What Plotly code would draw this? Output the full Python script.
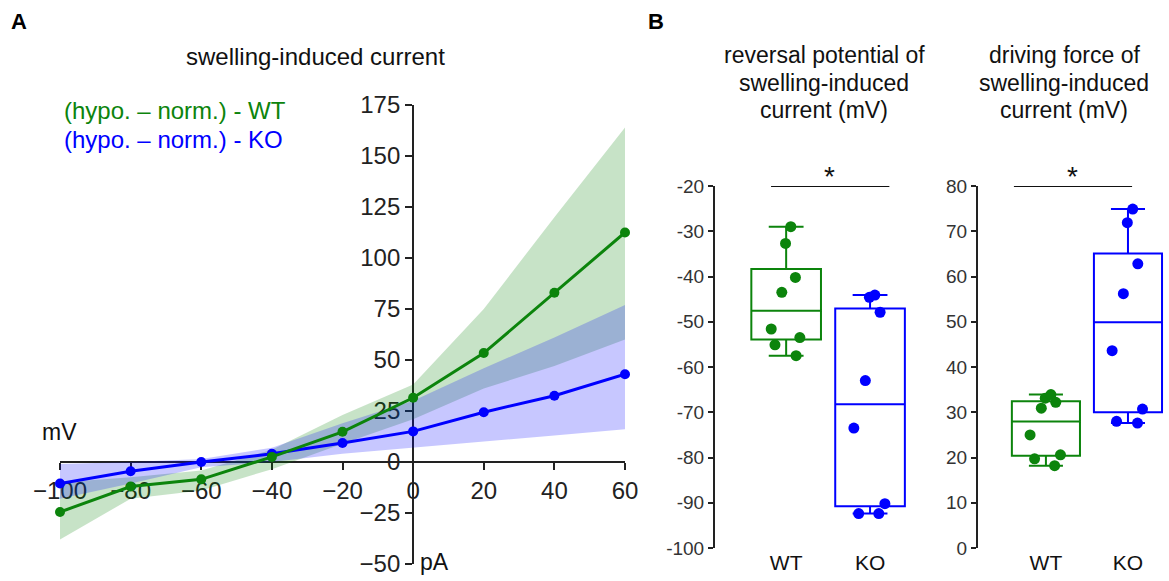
import numpy as np
import plotly.graph_objects as go

W, H = 1169, 581
FONT = "Liberation Sans, Arial, sans-serif"
GREEN = "#0c840c"
BLUE = "#0000ff"

# ---- Panel A: swelling-induced I-V relation ----
current_pA = [-100, -80, -60, -40, -20, 0, 20, 40, 60]
wt_mean = [-24.5, -12.0, -8.5, 2.5, 14.8, 31.5, 53.4, 83.0, 112.5]
wt_upper = [-10.0, -7.5, -4.2, 6.0, 23.0, 38.0, 75.0, 120.0, 164.0]
wt_lower = [-38.0, -18.0, -14.0, -3.5, 9.0, 21.0, 36.0, 47.0, 60.0]
ko_mean = [-10.5, -4.5, 0.0, 4.0, 9.3, 15.0, 24.4, 32.5, 43.0]
ko_upper = [-1.0, 0.0, 1.5, 7.0, 19.0, 30.0, 46.0, 61.0, 77.0]
ko_lower = [-18.0, -10.5, -2.6, 0.0, 4.0, 7.0, 10.0, 13.0, 16.0]
iv_xticks = [-100, -80, -60, -40, -20, 0, 20, 40, 60]
iv_yticks = [-50, -25, 0, 25, 50, 75, 100, 125, 150, 175]

# ---- Panel B: per-cell values ----
groups = ["WT", "KO"]
rev_wt = [-29.0, -32.7, -40.2, -43.5, -51.6, -53.5, -55.1, -57.5]
rev_ko = [-44.1, -44.6, -47.9, -63.0, -73.5, -90.2, -92.4, -92.4]
drv_wt = [33.9, 33.1, 32.2, 30.9, 25.0, 20.6, 19.7, 18.2]
drv_ko = [74.9, 71.9, 62.8, 56.2, 43.6, 30.7, 28.0, 27.6]
rev_ticks = [-100, -90, -80, -70, -60, -50, -40, -30, -20]
drv_ticks = [0, 10, 20, 30, 40, 50, 60, 70, 80]
rev_title = ["reversal potential of", "swelling-induced", "current (mV)"]
drv_title = ["driving force of", "swelling-induced", "current (mV)"]


def xdom(left, right):
    return [left / W, right / W]


def ydom(top, bottom):
    return [1 - bottom / H, 1 - top / H]


def px(x):
    return x / W


def py(y):
    return 1 - y / H


fig = go.Figure()

# shaded spread bands
for xs, up, lo, col in [(current_pA, wt_upper, wt_lower, "rgba(0,128,0,0.22)"),
                        (current_pA, ko_upper, ko_lower, "rgba(0,0,255,0.22)")]:
    fig.add_trace(go.Scatter(
        x=xs + xs[::-1], y=up + lo[::-1], fill="toself", fillcolor=col,
        line=dict(width=0), mode="lines", hoverinfo="skip", showlegend=False,
        xaxis="x", yaxis="y"))

# mean curves
for ys, col in [(ko_mean, BLUE), (wt_mean, GREEN)]:
    fig.add_trace(go.Scatter(
        x=current_pA, y=ys, mode="lines+markers",
        line=dict(color=col, width=3), marker=dict(color=col, size=10),
        cliponaxis=False, showlegend=False, xaxis="x", yaxis="y"))

# box plots: box statistics from interpolated percentiles, points overlaid
for (vals_wt, vals_ko, xa, ya) in [(rev_wt, rev_ko, "x2", "y2"),
                                   (drv_wt, drv_ko, "x3", "y3")]:
    for name, vals, col in [("WT", vals_wt, GREEN), ("KO", vals_ko, BLUE)]:
        q1, med, q3 = np.percentile(vals, [25, 50, 75])
        fig.add_trace(go.Box(
            x=[name], q1=[q1], median=[med], q3=[q3],
            lowerfence=[min(vals)], upperfence=[max(vals)],
            width=0.83, whiskerwidth=0.5, boxpoints=False,
            line=dict(color=col, width=2), fillcolor="rgba(255,255,255,0)",
            showlegend=False, xaxis=xa, yaxis=ya))
        fig.add_trace(go.Box(
            x=[name] * len(vals), y=vals, name=name,
            boxpoints="all", jitter=0.55, pointpos=0, width=0.83,
            line=dict(color="rgba(0,0,0,0)", width=0), fillcolor="rgba(0,0,0,0)",
            marker=dict(color=col, size=11, opacity=1),
            showlegend=False, xaxis=xa, yaxis=ya))

# axis geometry for panel A (axes cross at the origin)
ax_x_dom = xdom(60, 625)
ax_y_dom = ydom(105, 564)
x_range = [-100, 60]
y_range = [-50, 175]
yaxis_pos = ax_x_dom[0] + (0 - x_range[0]) / (x_range[1] - x_range[0]) * (ax_x_dom[1] - ax_x_dom[0])
xaxis_pos = ax_y_dom[0] + (0 - y_range[0]) / (y_range[1] - y_range[0]) * (ax_y_dom[1] - ax_y_dom[0])

axis_common = dict(showgrid=False, zeroline=False, showline=True, linecolor="#222",
                   linewidth=2, ticks="outside", tickcolor="#222", tickwidth=2,
                   automargin=False)

fig.update_layout(
    width=W, height=H, margin=dict(l=0, r=0, t=0, b=0, pad=0, autoexpand=False),
    paper_bgcolor="white", plot_bgcolor="rgba(0,0,0,0)",
    font=dict(family=FONT, color="#222"), boxmode="overlay",
    xaxis=dict(domain=ax_x_dom, range=x_range, anchor="free", position=xaxis_pos,
               tickvals=iv_xticks, ticklen=7, tickfont=dict(size=24, color="#222"),
               layer="below traces", **axis_common),
    yaxis=dict(domain=ax_y_dom, range=y_range, anchor="free", position=yaxis_pos,
               tickvals=iv_yticks, ticklen=7, tickfont=dict(size=24, color="#222"),
               layer="below traces", **axis_common),
    xaxis2=dict(domain=xdom(714, 912), range=[-0.86, 1.5], anchor="y2",
                type="category", categoryorder="array", categoryarray=groups,
                showline=False, showgrid=False, zeroline=False, ticks="", automargin=False,
                tickfont=dict(size=21, color="#111")),
    yaxis2=dict(domain=ydom(186, 548), range=[-100, -20], anchor="free", position=px(714),
                tickvals=rev_ticks, ticktext=[str(v) for v in rev_ticks], ticklen=5,
                tickfont=dict(size=19, color="#333"), **axis_common),
    xaxis3=dict(domain=xdom(977, 1169), range=[-0.84, 1.5], anchor="y3",
                type="category", categoryorder="array", categoryarray=groups,
                showline=False, showgrid=False, zeroline=False, ticks="", automargin=False,
                tickfont=dict(size=21, color="#111")),
    yaxis3=dict(domain=ydom(186, 548), range=[0, 80], anchor="free", position=px(977),
                tickvals=drv_ticks, ticktext=[str(v) for v in drv_ticks], ticklen=5,
                tickfont=dict(size=19, color="#333"), **axis_common),
)

# significance bars
fig.add_shape(type="line", xref="x2", yref="y2", x0=-0.18, x1=1.23, y0=-20, y1=-20,
              line=dict(color="#111", width=2))
fig.add_shape(type="line", xref="x3", yref="y3", x0=-0.39, x1=1.05, y0=80, y1=80,
              line=dict(color="#111", width=2))

annotations = [
    dict(text="<b>A</b>", x=px(9), y=py(21), xanchor="left", size=22, color="#000"),
    dict(text="<b>B</b>", x=px(646), y=py(21), xanchor="left", size=22, color="#000"),
    dict(text="swelling-induced current", x=px(315), y=py(57), xanchor="center", size=24, color="#111"),
    dict(text="(hypo. \u2013 norm.) - WT", x=px(62), y=py(111), xanchor="left", size=24, color=GREEN),
    dict(text="(hypo. \u2013 norm.) - KO", x=px(62), y=py(139), xanchor="left", size=24, color=BLUE),
    dict(text="mV", x=px(59), y=py(432), xanchor="center", size=23, color="#111"),
    dict(text="pA", x=px(418), y=py(562), xanchor="left", size=23, color="#111"),
    dict(text="*", x=px(829), y=py(176), xanchor="center", size=28, color="#111"),
    dict(text="*", x=px(1072), y=py(177), xanchor="center", size=28, color="#111"),
]
# multi-line panel B titles, one annotation per line for tight spacing
for lines, cx in [(rev_title, 824), (drv_title, 1064)]:
    for i, line in enumerate(lines):
        annotations.append(dict(text=line, x=px(cx), y=py(55 + 27.5 * i),
                                xanchor="center", size=23, color="#111"))

for a in annotations:
    fig.add_annotation(text=a["text"], x=a["x"], y=a["y"], xref="paper", yref="paper",
                       xanchor=a["xanchor"], yanchor="middle", showarrow=False,
                       font=dict(family=FONT, size=a["size"], color=a["color"]))

fig.write_html("out.html")
